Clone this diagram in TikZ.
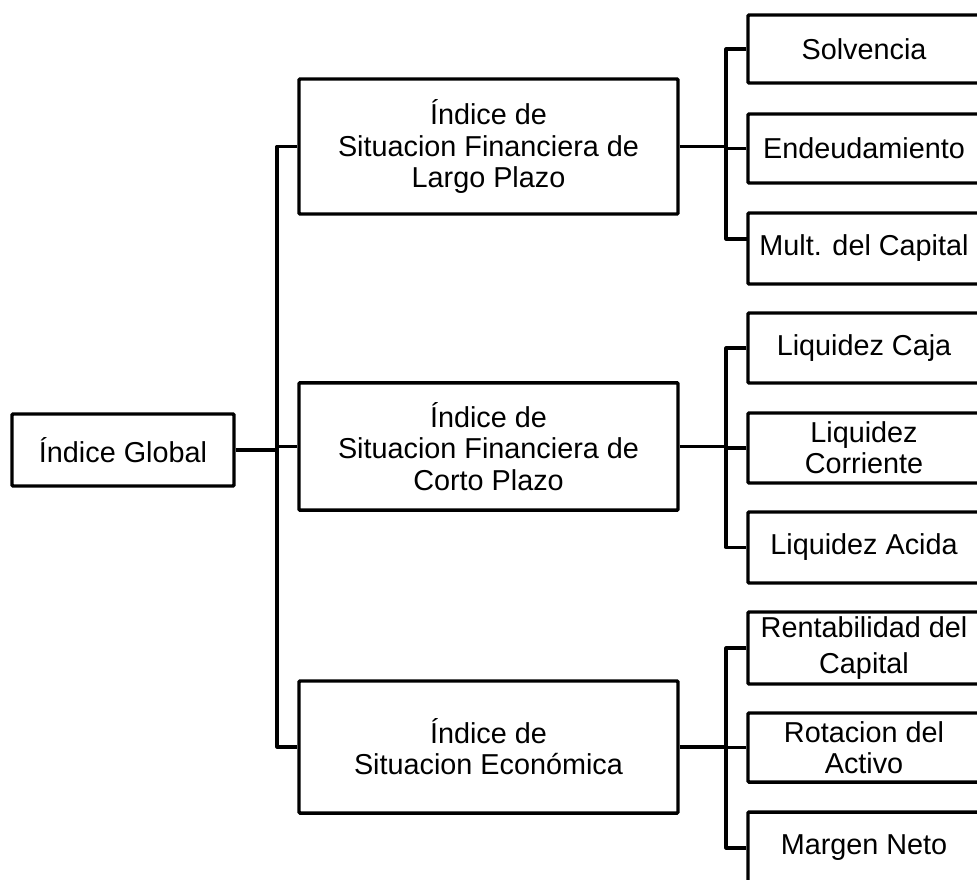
\documentclass[tikz,border=0pt]{standalone}
\usepackage{fontspec}
\setmainfont{Liberation Sans}
\begin{document}
\begin{tikzpicture}[x=0.75pt,y=-0.75pt,
  box/.style={draw=black,line width=2.6pt,rounded corners=0.8pt,fill=white,align=center,inner sep=0pt,
    font=\fontsize{21.6pt}{23.4pt}\selectfont},
  conn/.style={draw=black,line width=2.3pt,line join=round}]
\useasboundingbox (0,0) rectangle (977,879);
\clip (0,0) rectangle (977,879);
\fill[white] (0,0) rectangle (977,879);
% main nodes
\node[box,minimum width=166.5pt,minimum height=54pt] (global) at (123,450) {Índice Global};
\node[box,minimum width=284.25pt,minimum height=101.25pt] (largo) at (488.5,146.5) {Índice de\\Situacion Financiera de\\Largo Plazo};
\node[box,minimum width=284.25pt,minimum height=95.5pt] (corto) at (488.5,446.5) {Índice de\\Situacion Financiera de\\Corto Plazo};
\node[box,minimum width=284.25pt,minimum height=99pt] (econ) at (488.5,747) {Índice de\\Situacion Económica};
% children
\node[box,minimum width=174pt,minimum height=51pt] (solv) at (864,49) {Solvencia};
\node[box,minimum width=174pt,minimum height=51.75pt] (ende) at (864,148.5) {Endeudamiento};
\node[box,minimum width=174pt,minimum height=53.25pt] (mult) at (864,248.5) {Mult. del Capital};
\node[box,minimum width=174pt,minimum height=52.5pt] (caja) at (864,348) {Liquidez Caja};
\node[box,minimum width=174pt,minimum height=52.5pt] (corr) at (864,448) {Liquidez\\Corriente};
\node[box,minimum width=174pt,minimum height=53.25pt] (acid) at (864,547.5) {Liquidez Acida};
\node[box,minimum width=174pt,minimum height=54pt,font=\fontsize{21.6pt}{27pt}\selectfont] (rent) at (864,648) {Rentabilidad del\\Capital};
\node[box,minimum width=174pt,minimum height=51.75pt] (rota) at (864,747.5) {Rotacion del\\Activo\hspace{14pt}};
\node[box,minimum width=174pt,minimum height=54pt] (marg) at (864,848) {Margen Neto};
% trunk coordinates
\coordinate (tr) at (277,0);
\coordinate (br) at (726,0);
\coordinate (mc) at (748,239);
% main connectors
\draw[conn] (global.east) -- (global.east -| tr);
\draw[conn] (largo.west) -- (largo.west -| tr) -- (econ.west -| tr) -- (econ.west);
\draw[conn] (corto.west) -- (corto.west -| tr);
% group 1
\draw[conn] (largo.east) -- (largo.east -| br);
\draw[conn] (solv.west) -- (solv.west -| br) -- (br |- mc) -- (mc);
\draw[conn] (ende.west) -- (ende.west -| br);
% group 2
\draw[conn] (corto.east) -- (corto.east -| br);
\draw[conn] (caja.west) -- (caja.west -| br) -- (acid.west -| br) -- (acid.west);
\draw[conn] (corr.west) -- (corr.west -| br);
% group 3
\draw[conn] (econ.east) -- (econ.east -| br);
\draw[conn] (rent.west) -- (rent.west -| br) -- (marg.west -| br) -- (marg.west);
\draw[conn] (rota.west) -- (rota.west -| br);
\end{tikzpicture}
\end{document}
